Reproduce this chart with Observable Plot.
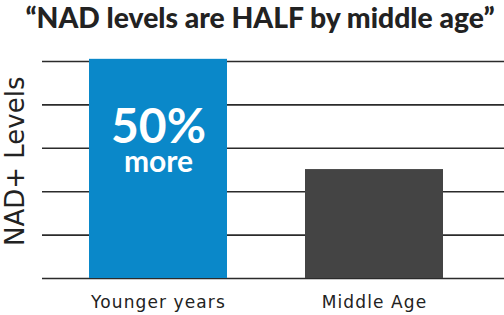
<!DOCTYPE html>
<html><head><meta charset="utf-8">
<script src="https://cdn.jsdelivr.net/npm/d3@7"></script>
<script src="https://cdn.jsdelivr.net/npm/@observablehq/plot@0.6"></script>
<style>
body{margin:0;background:#fff;width:504px;height:315px;overflow:hidden}
#title{box-sizing:border-box;width:504px;font-family:Lato,sans-serif;font-weight:900;font-size:28.3px;line-height:34px;height:40px;text-align:center;color:#222;padding-left:16px;white-space:nowrap}
#chart svg{display:block}
#chart svg g[aria-label="x-axis tick label"] text{letter-spacing:1.1px}
</style></head><body>
<div id="title"></div>
<div id="chart"></div>
<script>
const title = "“NAD levels are HALF by middle age”";
const categories = ["Younger years", "Middle Age"];
const values = [5.05, 2.51];
const colors = ["#0a88c9", "#444444"];
const gridTicks = [0, 1, 2, 3, 4, 5];
const yLabel = "NAD+ Levels";
const barNote = ["50%", "more"];

document.getElementById("title").textContent = title;
const data = categories.map((c, i) => ({category: c, value: values[i], color: colors[i]}));

const chart = Plot.plot({
  width: 504, height: 275,
  marginLeft: 42, marginRight: 0, marginTop: 21, marginBottom: 37,
  style: {fontFamily: "DejaVu Sans", fontSize: "17px", color: "#222", background: "#fff"},
  x: {domain: categories, range: [89, 443.3], paddingInner: 0.3626, paddingOuter: 0, label: null},
  y: {domain: [0, 5], label: null, axis: null},
  color: {type: "identity"},
  marks: [
    Plot.ruleY(gridTicks, {stroke: "#2b2b2b", strokeWidth: 1.6}),
    Plot.barY(data, {x: "category", y: "value", fill: "color"}),
    Plot.axisX({tickSize: 0, tickPadding: 17, fontSize: 17, label: null}),
    Plot.text([barNote[0]], {x: [categories[0]], y: [values[0]], dy: 84, lineAnchor: "bottom", fontSize: 48, fontWeight: 700, fontFamily: "Lato", fill: "white"}),
    Plot.text([barNote[1]], {x: [categories[0]], y: [values[0]], dy: 113, lineAnchor: "bottom", fontSize: 30, fontWeight: 700, fontFamily: "Lato", fill: "white"}),
    Plot.text([yLabel], {frameAnchor: "left", y: [2.7], rotate: -90, dx: -19, textAnchor: "middle", lineAnchor: "bottom", fontSize: 26, fill: "#222"})
  ]
});
document.getElementById("chart").appendChild(chart);
</script>
</body></html>
